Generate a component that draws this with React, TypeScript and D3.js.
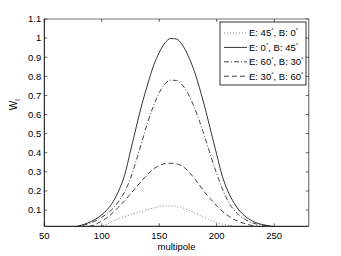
import React from 'react';
import * as d3 from 'd3';

const multipole = [75, 80, 85, 90, 95, 100, 105, 110, 115, 120, 125, 130, 135, 140, 145, 150, 155, 160, 165, 170, 175, 180, 185, 190, 195, 200, 205, 210, 215, 220, 225, 230, 235, 240, 245, 250];

// E: 45, B: 0 (dotted)
const wE45B0 = [0, 0.002, 0.005, 0.008, 0.011, 0.016, 0.028, 0.043, 0.056, 0.066, 0.075, 0.085, 0.094, 0.103, 0.111, 0.118, 0.122, 0.122, 0.119, 0.112, 0.1, 0.088, 0.074, 0.059, 0.046, 0.035, 0.027, 0.021, 0.016, 0.012, 0.008, 0.005, 0.003, 0.001, 0, 0];
// E: 0, B: 45 (solid)
const wE0B45 = [0.01, 0.017, 0.026, 0.038, 0.054, 0.075, 0.104, 0.145, 0.205, 0.285, 0.41, 0.535, 0.655, 0.76, 0.855, 0.925, 0.975, 0.998, 0.995, 0.965, 0.91, 0.835, 0.74, 0.63, 0.51, 0.39, 0.275, 0.195, 0.138, 0.095, 0.066, 0.046, 0.032, 0.024, 0.018, 0.013];
// E: 60, B: 30 (dash-dot)
const wE60B30 = [0.008, 0.015, 0.022, 0.032, 0.045, 0.062, 0.083, 0.11, 0.148, 0.197, 0.265, 0.36, 0.46, 0.56, 0.645, 0.715, 0.76, 0.78, 0.778, 0.755, 0.71, 0.645, 0.565, 0.475, 0.38, 0.29, 0.21, 0.145, 0.1, 0.07, 0.05, 0.035, 0.026, 0.019, 0.015, 0.011];
// E: 30, B: 60 (dashed)
const wE30B60 = [0.004, 0.007, 0.011, 0.016, 0.027, 0.042, 0.062, 0.088, 0.118, 0.15, 0.185, 0.22, 0.255, 0.287, 0.315, 0.333, 0.343, 0.345, 0.342, 0.33, 0.305, 0.27, 0.23, 0.19, 0.155, 0.122, 0.093, 0.07, 0.051, 0.038, 0.028, 0.02, 0.015, 0.011, 0.007, 0.004];

const legendE = [45, 0, 60, 30];
const legendB = [0, 45, 30, 60];

const xTicks = [50, 100, 150, 200, 250];
const yTicks = [0.1, 0.2, 0.3, 0.4, 0.5, 0.6, 0.7, 0.8, 0.9, 1, 1.1];

const W = 341;
const H = 256;
const plot = { left: 44.3, right: 308.7, top: 19, bottom: 226.3 };
const FONT = '"Liberation Sans", Arial, Helvetica, sans-serif';

const lines = [
  { values: wE45B0, dash: '1,2', color: '#666' },
  { values: wE0B45, dash: '', color: '#000' },
  { values: wE60B30, dash: '5,2,1,2', color: '#111' },
  { values: wE30B60, dash: '5,3', color: '#111' },
];

export default function App() {
  const x = d3.scaleLinear().domain([50, 280]).range([plot.left, plot.right]);
  const y = d3.scaleLinear().domain([0.015, 1.1]).range([plot.bottom, plot.top]);

  const line = d3.line<number>()
    .x((_, i) => x(multipole[i]))
    .y(d => y(d))
    .curve(d3.curveMonotoneX);

  const tk = 3;

  // legend box
  const lg = { x: 220, y: 22, w: 86, h: 63 };

  return (
    <svg width={W} height={H} style={{ position: 'absolute', left: 0, top: 0, background: '#fff' }}
      fontFamily={FONT}>
      <defs>
        <clipPath id="plotClip">
          <rect x={plot.left} y={plot.top} width={plot.right - plot.left} height={plot.bottom - plot.top} />
        </clipPath>
      </defs>

      {/* curves */}
      <g clipPath="url(#plotClip)">
        {lines.map((l, i) => (
          <path key={i} d={line(l.values) || ''} fill="none" stroke={l.color}
            strokeWidth={0.8} strokeDasharray={l.dash || undefined} />
        ))}
      </g>

      {/* axes box */}
      <line x1={plot.left} x2={plot.right} y1={plot.top} y2={plot.top} stroke="#777" strokeWidth={1.2} />
      <line x1={plot.right} x2={plot.right} y1={plot.top} y2={plot.bottom} stroke="#777" strokeWidth={1.2} />
      <line x1={plot.left} x2={plot.left} y1={plot.top} y2={plot.bottom} stroke="#000" strokeWidth={1} />
      <line x1={plot.left} x2={plot.right} y1={plot.bottom} y2={plot.bottom} stroke="#000" strokeWidth={1} />

      {/* x ticks */}
      {xTicks.map(t => (
        <g key={'x' + t}>
          <line x1={x(t)} x2={x(t)} y1={plot.bottom} y2={plot.bottom - tk} stroke="#000" strokeWidth={0.6} />
          <line x1={x(t)} x2={x(t)} y1={plot.top} y2={plot.top + tk} stroke="#000" strokeWidth={0.6} />
          <text x={x(t)} y={plot.bottom + 13} textAnchor="middle" fontSize={9.5} fill="#000">{t}</text>
        </g>
      ))}

      {/* y ticks */}
      {yTicks.map(t => (
        <g key={'y' + t}>
          <line x1={plot.left} x2={plot.left + tk} y1={y(t)} y2={y(t)} stroke="#000" strokeWidth={0.6} />
          <line x1={plot.right} x2={plot.right - tk} y1={y(t)} y2={y(t)} stroke="#000" strokeWidth={0.6} />
          <text x={plot.left - 3} y={y(t) + 3.3} textAnchor="end" fontSize={9.5} fill="#000">{t}</text>
        </g>
      ))}

      {/* axis labels */}
      <text x={(plot.left + plot.right) / 2} y={250} textAnchor="middle" fontSize={9.5} fill="#000">multipole</text>
      <text transform={`translate(17,${(plot.top + plot.bottom) / 2 - 18}) rotate(-90)`} textAnchor="middle" fontSize={10} fill="#000">
        W<tspan fontSize={7} dy={3}>l</tspan>
      </text>

      {/* legend */}
      <rect x={lg.x} y={lg.y} width={lg.w} height={lg.h} fill="#fff" stroke="#000" strokeWidth={0.8} />
      {lines.map((l, i) => {
        const ly = 33 + i * 14.4;
        return (
          <g key={'lg' + i}>
            <line x1={224} x2={247} y1={ly} y2={ly} stroke={l.color} strokeWidth={0.8}
              strokeDasharray={l.dash || undefined} />
            <text x={249} y={ly + 3.3} fontSize={9.5} fill="#000">
              {`E: ${legendE[i]}`}<tspan fontSize={6} dy={-4}>°</tspan>
              <tspan dy={4}>{`, B: ${legendB[i]}`}</tspan><tspan fontSize={6} dy={-4}>°</tspan>
            </text>
          </g>
        );
      })}
    </svg>
  );
}
